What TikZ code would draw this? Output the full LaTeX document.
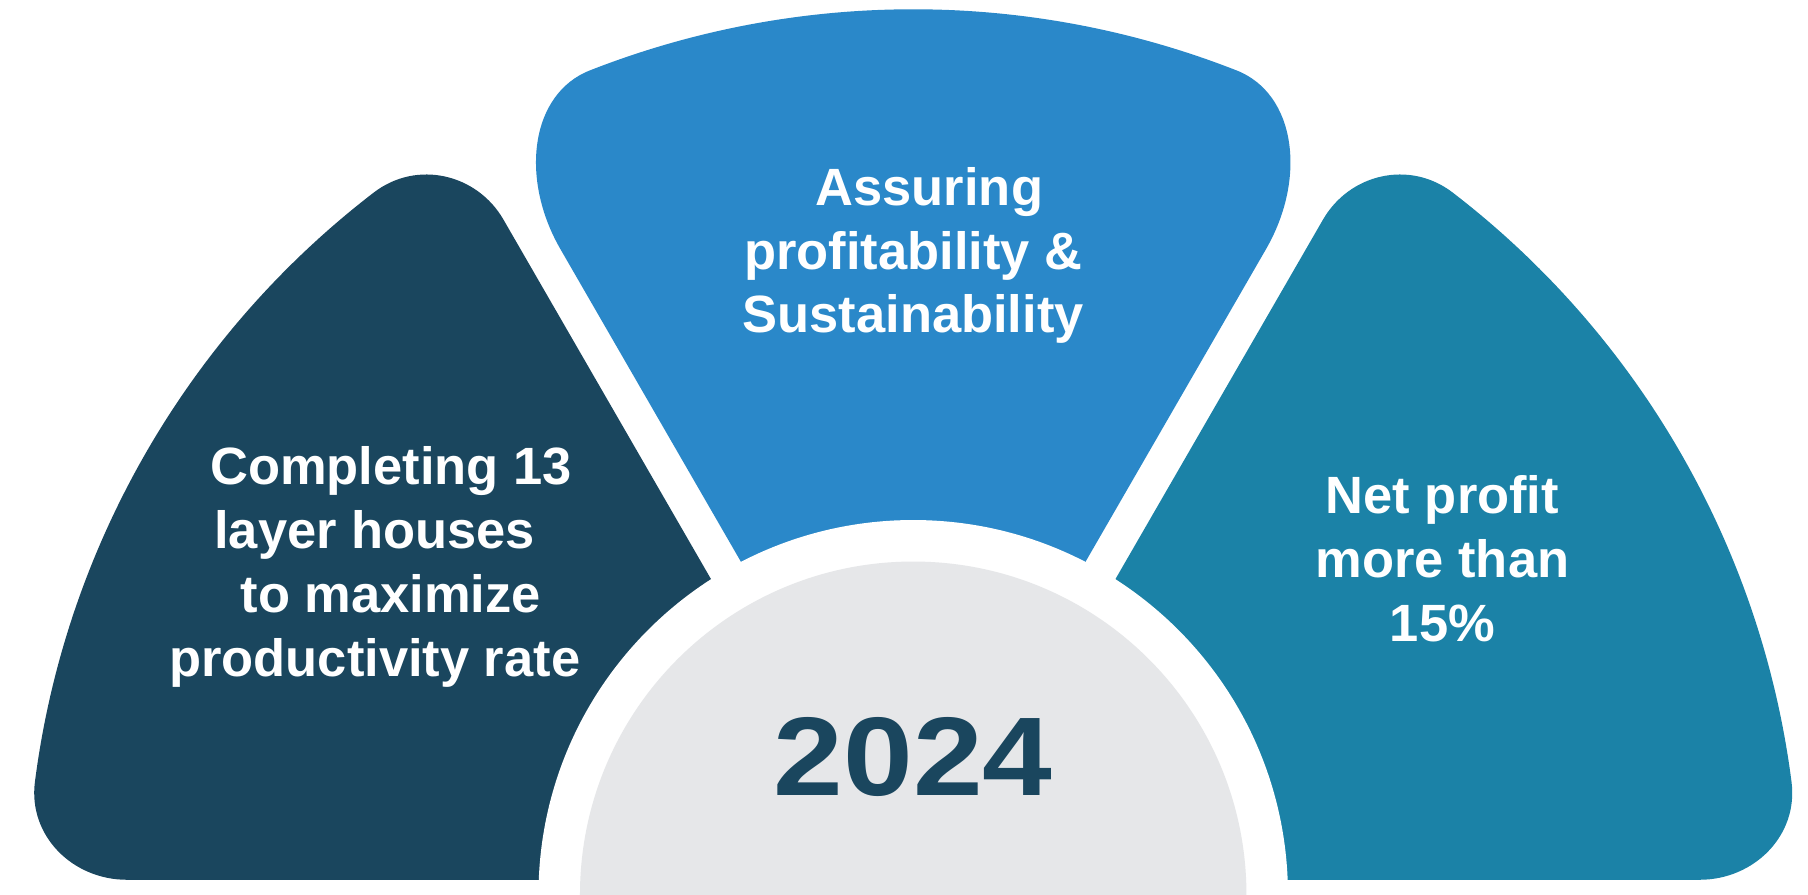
\documentclass[tikz,border=0pt]{standalone}
\usepackage{fontspec}
\setmainfont{Liberation Sans}
\usetikzlibrary{calc}
\definecolor{navy}{HTML}{1A465E}
\definecolor{skyblue}{HTML}{2A88C9}
\definecolor{tealblue}{HTML}{1B82A7}
\definecolor{archgray}{HTML}{E6E7E9}
\tikzset{
  segtext/.style={text=white, font=\bfseries\fontsize{45.5}{55.4}\selectfont, align=center, inner sep=0pt, anchor=base},
  yeartext/.style={text=navy, font=\bfseries\fontsize{97}{100}\selectfont, inner sep=0pt, anchor=base, xscale=1.12}
}
\begin{document}
\begin{tikzpicture}[x=1pt,y=1pt]
\useasboundingbox (-792,0) rectangle (776,776);
\clip (-792,0) rectangle (776,776);
\fill[white] (-792,0) rectangle (776,776);

% left segment (120..180 degrees)
\fill[navy]
  ($(120:100pt)+(210:15pt)$) --
  ($(120:684.85pt)+(210:15pt)$)
  .. controls ($(120:730.5pt)+(210:15pt)$) and ($(127.535:768pt)+(37.535:47.3pt)$) ..
  (127.535:768pt) arc[start angle=127.535, end angle=172.689, radius=768pt]
  .. controls ($(172.689:768pt)+(262.689:46.75pt)$) and (-729.2,13) ..
  (-681.89,13) -- (-100,13) -- cycle;

% middle segment (60..120 degrees)
\fill[skyblue]
  ($(60:100pt)+(150:15pt)$) --
  ($(60:637.85pt)+(150:15pt)$)
  .. controls ($(60:709.35pt)+(150:15pt)$) and ($(68.579:768pt)+(-21.421:55pt)$) ..
  (68.579:768pt) arc[start angle=68.579, end angle=111.421, radius=768pt]
  .. controls ($(111.421:768pt)+(201.421:55pt)$) and ($(120:709.35pt)+(30:15pt)$) ..
  ($(120:637.85pt)+(30:15pt)$) -- ($(120:100pt)+(30:15pt)$) -- cycle;

% right segment (0..60 degrees)
\fill[tealblue]
  (100,13) -- (681.89,13)
  .. controls (729.2,13) and ($(7.311:768pt)+(-82.689:46.75pt)$) ..
  (7.311:768pt) arc[start angle=7.311, end angle=52.465, radius=768pt]
  .. controls ($(52.465:768pt)+(142.465:47.3pt)$) and ($(60:730.5pt)+(-30:15pt)$) ..
  ($(60:684.85pt)+(-30:15pt)$) -- ($(60:100pt)+(-30:15pt)$) -- cycle;

% white halo and grey centre
\fill[white] (0,0) circle (325pt);
\fill[archgray] (0,0) circle (289pt);

% text (node base = baseline of the last line)
\node[segtext] (lefttext) at (-467,189.2) {\hspace*{28pt}Completing 13\\layer houses\\\hspace*{28pt}to maximize\\productivity rate};
\node[segtext] (midtext) at (0,487.2) {\hspace*{28pt}Assuring\\profitability \&\\Sustainability};
\node[segtext] (righttext) at (459,219.6) {Net profit\\more than\\15\%};
\node[yeartext] (year) at (0,86.5) {2024};
\end{tikzpicture}
\end{document}
